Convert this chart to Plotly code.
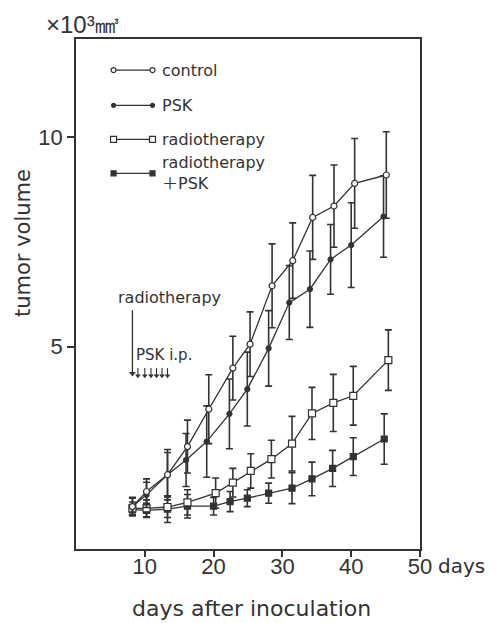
import plotly.graph_objects as go

# ---------------- data ----------------
control_days = [8.2, 10.25, 13.3, 16.2, 19.3, 22.8, 25.3, 28.5, 31.5, 34.4, 37.5, 40.5, 45.1]
control_vol = [1.19, 1.55, 1.95, 2.62, 3.51, 4.49, 5.06, 6.45, 7.05, 8.08, 8.35, 8.89, 9.09]
control_err = [0.22, 0.30, 0.53, 0.63, 0.82, 0.76, 0.77, 1.00, 0.90, 1.00, 0.98, 1.07, 1.03]

psk_days = [8.2, 10.25, 13.3, 16.0, 19.0, 22.3, 24.9, 28.0, 31.0, 34.0, 37.0, 40.0, 44.7]
psk_vol = [1.19, 1.47, 1.95, 2.30, 2.74, 3.40, 3.99, 4.96, 6.05, 6.37, 7.08, 7.42, 8.10]
psk_err = [0.20, 0.30, 0.60, 0.63, 0.85, 0.83, 0.88, 0.90, 0.88, 0.91, 0.83, 1.01, 0.97]

radio_days = [8.2, 10.25, 13.3, 16.2, 20.3, 22.8, 25.4, 28.4, 31.4, 34.3, 37.4, 40.3, 45.4]
radio_vol = [1.15, 1.15, 1.18, 1.29, 1.51, 1.76, 2.04, 2.32, 2.69, 3.41, 3.66, 3.83, 4.68]
radio_err = [0.15, 0.20, 0.25, 0.30, 0.36, 0.34, 0.41, 0.45, 0.65, 0.62, 0.68, 0.70, 0.72]

rp_days = [8.2, 10.25, 13.3, 16.2, 20.0, 22.4, 24.9, 28.0, 31.4, 34.3, 37.3, 40.3, 44.8]
rp_vol = [1.12, 1.10, 1.13, 1.20, 1.20, 1.31, 1.39, 1.51, 1.63, 1.85, 2.10, 2.38, 2.80]
rp_err = [0.12, 0.17, 0.32, 0.28, 0.21, 0.24, 0.20, 0.24, 0.37, 0.40, 0.43, 0.45, 0.60]

series_names = ["control", "PSK", "radiotherapy", "radiotherapy<br>＋PSK"]

x_tickvals = [10, 20, 30, 40, 50]
x_ticktext = ["10", "20", "30", "40", "50"]
y_tickvals = [5, 10]
y_ticktext = ["5", "10"]

radiotherapy_day = 8.2
psk_injection_days = [9.0, 10.0, 10.9, 11.7, 12.5, 13.3]

# ---------------- styles ----------------
INK = "#333333"
DIGITS = "Liberation Sans, Arial, sans-serif"
GOTHIC = "DejaVu Sans, Noto Sans CJK JP, sans-serif"

styles = [
    dict(symbol="circle", size=6, color="white"),
    dict(symbol="circle", size=5, color=INK),
    dict(symbol="square", size=7, color="white"),
    dict(symbol="square", size=6, color=INK),
]

fig = go.Figure()

data = [
    (control_days, control_vol, control_err),
    (psk_days, psk_vol, psk_err),
    (radio_days, radio_vol, radio_err),
    (rp_days, rp_vol, rp_err),
]

for i in [3, 2, 1, 0]:
    d, v, e = data[i]
    st = styles[i]
    fig.add_trace(go.Scatter(
        x=d, y=v, mode="lines+markers", name=series_names[i], showlegend=False,
        line=dict(color=INK, width=1.3),
        marker=dict(symbol=st["symbol"], size=st["size"], color=st["color"],
                    line=dict(color=INK, width=1.2)),
        error_y=dict(type="data", array=e, visible=True, color=INK,
                     thickness=1.6, width=3.5),
    ))

# ---------------- treatment arrows (line + arrow-head marker) ----------------
def add_arrow(xd, y_tail, y_tip, lw, head):
    fig.add_trace(go.Scatter(
        x=[xd, xd], y=[y_tail, y_tip], mode="lines", showlegend=False,
        hoverinfo="skip", line=dict(color=INK, width=lw)))
    fig.add_trace(go.Scatter(
        x=[xd], y=[y_tip], mode="markers", showlegend=False, hoverinfo="skip",
        marker=dict(symbol="triangle-down", size=head, color=INK,
                    line=dict(width=0))))

add_arrow(radiotherapy_day, 5.87, 4.36, 1.3, 6)
for dday in psk_injection_days:
    add_arrow(dday, 4.49, 4.31, 1.1, 5)

# ---------------- manual legend (placed in the plot's own day/volume units) ----------------
leg_x0, leg_x1, leg_text_x = 5.46, 11.12, 12.2
leg_ys = [11.59, 10.75, 9.94, 9.13]
for i in range(4):
    st = styles[i]
    fig.add_trace(go.Scatter(
        x=[leg_x0, leg_x1], y=[leg_ys[i], leg_ys[i]],
        mode="lines+markers", showlegend=False, hoverinfo="skip",
        line=dict(color=INK, width=1.3),
        marker=dict(symbol=st["symbol"], size=st["size"] - 1, color=st["color"],
                    line=dict(color=INK, width=1.2)),
    ))
    fig.add_annotation(
        x=leg_text_x, y=leg_ys[i],
        text=series_names[i], showarrow=False, xanchor="left", yanchor="middle",
        align="left", font=dict(family=GOTHIC, size=16, color=INK),
    )

# ---------------- treatment labels ----------------
fig.add_annotation(x=13.6, y=6.18, text="radiotherapy", showarrow=False,
                   xanchor="center", yanchor="middle",
                   font=dict(family=GOTHIC, size=16, color=INK))
fig.add_annotation(x=12.8, y=4.80, text="PSK i.p.", showarrow=False,
                   xanchor="center", yanchor="middle",
                   font=dict(family=GOTHIC, size=15, color=INK))

# ---------------- axis titles / units (plot area is 344 x 510 px) ----------------
PW, PH = 344.0, 510.0
fig.add_annotation(x=(44 - 76) / PW, y=(549 - 24) / PH, xref="paper", yref="paper",
                   text="×10³㎣", showarrow=False,
                   font=dict(family=DIGITS, size=24, color=INK),
                   xanchor="left", yanchor="middle")
fig.add_annotation(x=(436 - 76) / PW, y=(549 - 566) / PH, xref="paper", yref="paper",
                   text="days", showarrow=False, xanchor="left", yanchor="middle",
                   font=dict(family=GOTHIC, size=20, color=INK))
fig.add_annotation(x=(251 - 76) / PW, y=(549 - 608) / PH, xref="paper", yref="paper",
                   text="days after inoculation", showarrow=False,
                   xanchor="center", yanchor="middle",
                   font=dict(family=GOTHIC, size=22, color=INK))
fig.add_annotation(x=(23 - 76) / PW, y=(549 - 243) / PH, xref="paper", yref="paper",
                   text="tumor volume", textangle=-90, showarrow=False,
                   xanchor="center", yanchor="middle",
                   font=dict(family=GOTHIC, size=21, color=INK))

# page body has an 8 px margin: plot area at x 76..420, y 39..549 in the window
fig.update_layout(
    width=488, height=615,
    margin=dict(l=68, r=76, t=31, b=74),
    paper_bgcolor="white", plot_bgcolor="white",
    xaxis=dict(range=[0, 50], tickvals=x_tickvals, ticktext=x_ticktext,
               showgrid=False, zeroline=False, showline=True, mirror=True,
               linecolor=INK, linewidth=1.6, ticks="outside", ticklen=6,
               tickwidth=1.5, tickcolor=INK, ticklabelstandoff=-9,
               tickfont=dict(family=DIGITS, size=22, color=INK)),
    yaxis=dict(range=[0.18, 12.33], tickvals=y_tickvals, ticktext=y_ticktext,
               showgrid=False, zeroline=False, showline=True, mirror=True,
               linecolor=INK, linewidth=1.6, ticks="outside", ticklen=7,
               tickwidth=1.5, tickcolor=INK,
               tickfont=dict(family=DIGITS, size=22, color=INK)),
    showlegend=False,
)

fig.write_html("out.html")
